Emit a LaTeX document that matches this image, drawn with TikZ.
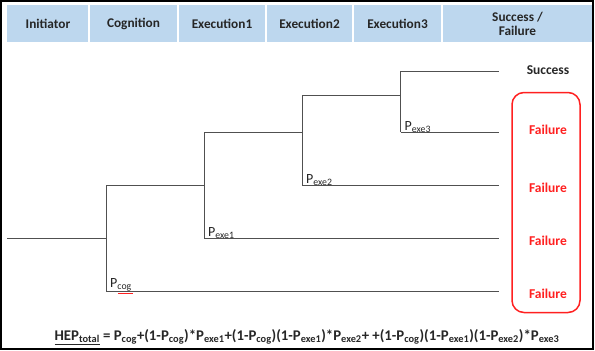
\documentclass[tikz,border=0pt]{standalone}
\usepackage{fontspec}
\setmainfont{Carlito}
\definecolor{hdr}{HTML}{BDD7EE}
\definecolor{ln}{HTML}{505050}
\definecolor{fred}{HTML}{FF2020}
\newcommand{\sbs}[1]{\textsubscript{#1}}
\begin{document}
\begin{tikzpicture}[x=1pt,y=-1pt,
  htext/.style={font=\bfseries\fontsize{13.3}{14}\selectfont,align=center,text=black!85},
  br/.style={draw=ln,line width=0.9pt},
  plab/.style={font=\fontsize{14}{15}\selectfont,anchor=south west,inner sep=1pt,text=black!85},
  fail/.style={font=\bfseries\fontsize{13.5}{14}\selectfont,text=fred},
  succ/.style={font=\bfseries\fontsize{13.5}{14}\selectfont,text=black!85}]
\useasboundingbox (0,0) rectangle (595,351);
\draw[line width=2pt] (1,1) rectangle (593,349);
% header cells
\foreach \a/\b in {7/88.3,89.7/177.3,178.7/265.3,266.7/352.3,353.7/441.3,442.7/592}
  \fill[hdr] (\a,5) rectangle (\b,42);
\node[htext] (h1) at (48,23.5) {Initiator};
\node[htext] (h2) at (133.5,23.5) {Cognition};
\node[htext] (h3) at (222,23.5) {Execution1};
\node[htext] (h4) at (309.5,23.5) {Execution2};
\node[htext] (h5) at (397.5,23.5) {Execution3};
\node[htext] (h6) at (517.5,23.5) {Success /\\Failure};
% tree coordinates
\coordinate (i0) at (7,238);
\coordinate (c) at (106,238);
\coordinate (ct) at (106,185);
\coordinate (cb) at (106,291);
\coordinate (e1) at (204,185);
\coordinate (e1t) at (204,132);
\coordinate (e1b) at (204,238);
\coordinate (e2) at (302,132);
\coordinate (e2t) at (302,95.5);
\coordinate (e2b) at (302,185);
\coordinate (e3) at (400.5,95.5);
\coordinate (e3t) at (400.5,71);
\coordinate (e3b) at (400.5,132);
\coordinate (o1) at (499,71);
\coordinate (o2) at (499,132);
\coordinate (o3) at (499,185);
\coordinate (o4) at (499,238);
\coordinate (o5) at (499,291);
\draw[br] (i0) -- (c);
\draw[br] (ct) -- (cb);
\draw[br] (ct) -- (e1);
\draw[br] (cb) -- (o5);
\draw[br] (e1t) -- (e1b);
\draw[br] (e1t) -- (e2);
\draw[br] (e1b) -- (o4);
\draw[br] (e2t) -- (e2b);
\draw[br] (e2t) -- (e3);
\draw[br] (e2b) -- (o3);
\draw[br] (e3t) -- (e3b);
\draw[br] (e3t) -- (o1);
\draw[br] (e3b) -- (o2);
% probability labels
\node[plab] (pc) at ([xshift=3pt,yshift=-1.5pt]cb) {P\sbs{cog}};
\draw[fred,line width=0.6pt] ([xshift=9pt,yshift=-0.3pt]pc.south west) -- ([yshift=-0.3pt]pc.south east);
\node[plab] (p1) at ([xshift=3pt,yshift=-1.5pt]e1b) {P\sbs{exe1}};
\node[plab] (p2) at ([xshift=3pt,yshift=-1.5pt]e2b) {P\sbs{exe2}};
\node[plab] (p3) at ([xshift=3pt,yshift=-1.5pt]e3b) {P\sbs{exe3}};
% outcomes
\node[succ] (s) at (548,70.5) {Success};
\node[fail] (f1) at (548,129.5) {Failure};
\node[fail] (f2) at (548,187.5) {Failure};
\node[fail] (f3) at (548,240.5) {Failure};
\node[fail] (f4) at (548,293.5) {Failure};
\draw[fred,line width=1.5pt,rounded corners=12pt] (512,92.5) rectangle (580,312.5);
% formula
\node[font=\bfseries\fontsize{14.8}{16}\selectfont,text=black!85,inner sep=0pt] (eq) at (307,337)
  {\underline{HEP\sbs{total}} = P\sbs{cog}+(1-P\sbs{cog})*P\sbs{exe1}+(1-P\sbs{cog})(1-P\sbs{exe1})*P\sbs{exe2}+ +(1-P\sbs{cog})(1-P\sbs{exe1})(1-P\sbs{exe2})*P\sbs{exe3}};
\end{tikzpicture}
\end{document}
